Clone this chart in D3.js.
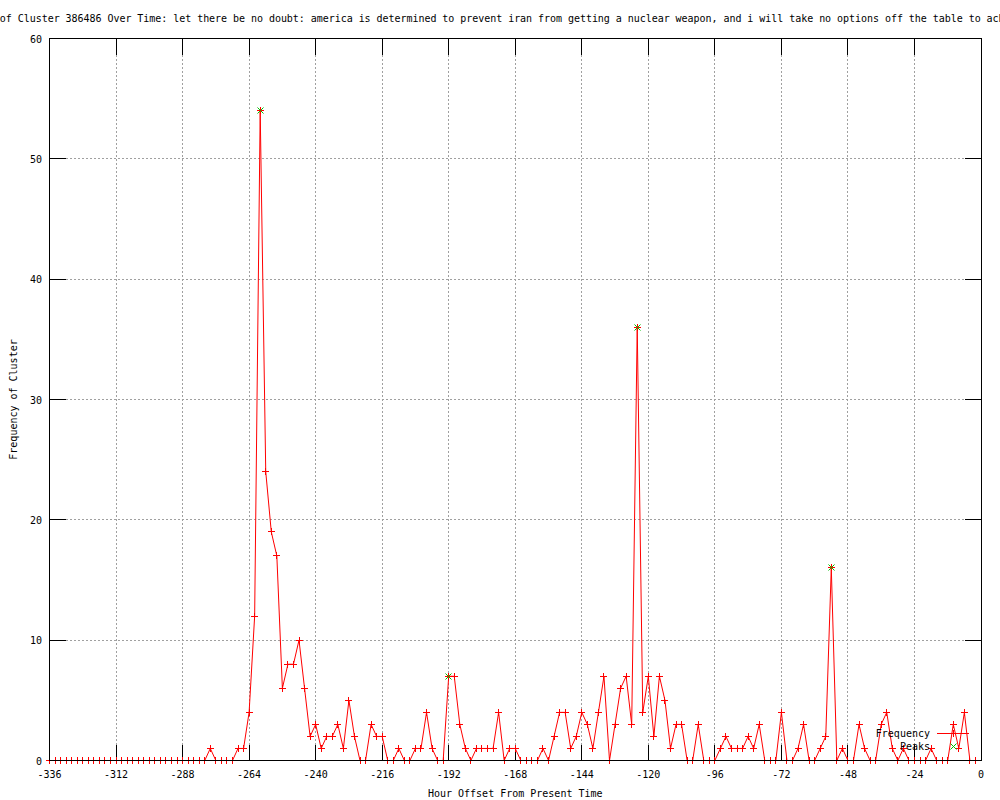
<!DOCTYPE html>
<html>
<head>
<meta charset="utf-8">
<script src="https://cdn.jsdelivr.net/npm/d3@7"></script>
<style>
    body { margin: 0; background: #ffffff; }
    text { font-family: "DejaVu Sans Mono", monospace; font-size: 10px; fill: #000000; }
</style>
</head>
<body>
<div id="chart"></div>
<script>
// frequency per 2-hour bucket, starting at -336
var hours = d3.range(-336, 0, 2);
var frequency = [
    0, 0, 0, 0, 0, 0, 0, 0, 0, 0, 0, 0, 0, 0, 0, 0, 0, 0, 0, 0,
    0, 0, 0, 0, 0, 0, 0, 0, 0, 1, 0, 0, 0, 0, 1, 1, 4, 12, 54, 24,
    19, 17, 6, 8, 8, 10, 6, 2, 3, 1, 2, 2, 3, 1, 5, 2, 0, 0, 3, 2,
    2, 0, 0, 1, 0, 0, 1, 1, 4, 1, 0, 0, 7, 7, 3, 1, 0, 1, 1, 1,
    1, 4, 0, 1, 1, 0, 0, 0, 0, 1, 0, 2, 4, 4, 1, 2, 4, 3, 1, 4,
    7, 0, 3, 6, 7, 3, 36, 4, 7, 2, 7, 5, 1, 3, 3, 0, 0, 3, 0, 0,
    0, 1, 2, 1, 1, 1, 2, 1, 3, 0, 0, 0, 4, 0, 0, 1, 3, 0, 0, 1,
    2, 16, 0, 1, 0, 0, 3, 1, 0, 0, 3, 4, 1, 0, 1, 0, 0, 0, 0, 1,
    0, 0, 0, 3, 1, 4, 0, 0
];
var peakHours = [-260, -192, -124, -54];
var peakValues = [54, 7, 36, 16];
var xTicks = [-336, -312, -288, -264, -240, -216, -192, -168, -144, -120, -96, -72, -48, -24, 0];
var yTicks = [0, 10, 20, 30, 40, 50, 60];

var titleText = "Frequency of Cluster 386486 Over Time: let there be no doubt: america is determined to prevent iran from getting a nuclear weapon, and i will take no options off the table to achieve that goal";
var xLabel = "Hour Offset From Present Time";
var yLabel = "Frequency of Cluster";
var seriesNames = ["Frequency", "Peaks"];

var colRed = "#ff0000", colGreen = "#00c000", gridColor = "#a0a0a0", colBlack = "#000000";
var plotL = 49.5, plotR = 981, plotT = 38.5, plotB = 760.5, ticLen = 16;

var svg = d3.select("#chart")
    .append("svg")
    .attr("width", 1000)
    .attr("height", 800);

svg.append("rect")
    .attr("width", 1000)
    .attr("height", 800)
    .attr("fill", "#ffffff");

var x = d3.scaleLinear().domain([-336, 0]).range([plotL, plotR]);
var y = d3.scaleLinear().domain([0, 60]).range([plotB, plotT]);

// snap to pixel centre so 1px lines stay sharp
function px(v) { return Math.round(v - 0.5) + 0.5; }

// grid
var grid = svg.append("g")
    .attr("stroke", gridColor)
    .attr("stroke-width", 1)
    .attr("stroke-dasharray", "2,2")
    .attr("shape-rendering", "crispEdges");
xTicks.slice(1, -1).forEach(function (t) {
    grid.append("line")
        .attr("x1", px(x(t))).attr("x2", px(x(t)))
        .attr("y1", plotT).attr("y2", plotB);
});
yTicks.slice(1, -1).forEach(function (t) {
    grid.append("line")
        .attr("x1", plotL).attr("x2", plotR)
        .attr("y1", px(y(t))).attr("y2", px(y(t)));
});

// axes with mirrored inward ticks
var axes = svg.append("g")
    .attr("stroke", colBlack)
    .attr("stroke-width", 1)
    .attr("shape-rendering", "crispEdges");
xTicks.forEach(function (t) {
    axes.append("line")
        .attr("x1", px(x(t))).attr("x2", px(x(t)))
        .attr("y1", plotB).attr("y2", plotB - ticLen);
    axes.append("line")
        .attr("x1", px(x(t))).attr("x2", px(x(t)))
        .attr("y1", plotT).attr("y2", plotT + ticLen);
    svg.append("text")
        .attr("x", x(t))
        .attr("y", 778)
        .attr("text-anchor", "middle")
        .text(t);
});
yTicks.forEach(function (t) {
    axes.append("line")
        .attr("x1", plotL).attr("x2", plotL + ticLen)
        .attr("y1", px(y(t))).attr("y2", px(y(t)));
    axes.append("line")
        .attr("x1", plotR).attr("x2", plotR - ticLen)
        .attr("y1", px(y(t))).attr("y2", px(y(t)));
    svg.append("text")
        .attr("x", 42)
        .attr("y", y(t) + 4)
        .attr("text-anchor", "end")
        .text(t);
});

// data line
var freqLine = d3.line()
    .x(function (d, i) { return x(hours[i]); })
    .y(function (d) { return y(d); });

svg.append("path")
    .datum(frequency)
    .attr("d", freqLine)
    .attr("fill", "none")
    .attr("stroke", colRed)
    .attr("stroke-width", 1);

function plus(cx, cy, r) {
    return "M" + (cx - r) + "," + cy + "H" + (cx + r) + "M" + cx + "," + (cy - r) + "V" + (cy + r);
}
function cross(cx, cy, r) {
    return "M" + (cx - r) + "," + (cy - r) + "L" + (cx + r) + "," + (cy + r) +
        "M" + (cx - r) + "," + (cy + r) + "L" + (cx + r) + "," + (cy - r);
}

svg.append("g")
    .selectAll("path")
    .data(frequency)
    .enter()
    .append("path")
    .attr("d", function (d, i) { return plus(px(x(hours[i])), px(y(d)), 3.5); })
    .attr("stroke", colRed)
    .attr("stroke-width", 1)
    .attr("shape-rendering", "crispEdges");

svg.append("g")
    .selectAll("path")
    .data(peakValues)
    .enter()
    .append("path")
    .attr("d", function (d, i) { return cross(px(x(peakHours[i])), px(y(d)), 3); })
    .attr("fill", "none")
    .attr("stroke", colGreen)
    .attr("stroke-width", 1);

// border
svg.append("rect")
    .attr("x", plotL)
    .attr("y", plotT)
    .attr("width", plotR - plotL)
    .attr("height", plotB - plotT)
    .attr("fill", "none")
    .attr("stroke", colBlack)
    .attr("stroke-width", 1)
    .attr("shape-rendering", "crispEdges");

// key
svg.append("text")
    .attr("x", 930).attr("y", 737)
    .attr("text-anchor", "end")
    .text(seriesNames[0]);
svg.append("line")
    .attr("x1", 937).attr("x2", 969)
    .attr("y1", 733.5).attr("y2", 733.5)
    .attr("stroke", colRed)
    .attr("shape-rendering", "crispEdges");
svg.append("path")
    .attr("d", plus(953.5, 733.5, 3.5))
    .attr("stroke", colRed)
    .attr("shape-rendering", "crispEdges");
svg.append("text")
    .attr("x", 930).attr("y", 750)
    .attr("text-anchor", "end")
    .text(seriesNames[1]);
svg.append("path")
    .attr("d", cross(953.5, 746.5, 3))
    .attr("fill", "none")
    .attr("stroke", colGreen);

// titles (title is wider than the page, like the original)
svg.append("text")
    .attr("x", -60)
    .attr("y", 22)
    .attr("text-anchor", "start")
    .attr("letter-spacing", "-0.04px")
    .text(titleText);
svg.append("text")
    .attr("x", (plotL + plotR) / 2)
    .attr("y", 797)
    .attr("text-anchor", "middle")
    .text(xLabel);
svg.append("text")
    .attr("transform", "translate(17," + (plotT + plotB) / 2 + ") rotate(-90)")
    .attr("text-anchor", "middle")
    .text(yLabel);
</script>
</body>
</html>
